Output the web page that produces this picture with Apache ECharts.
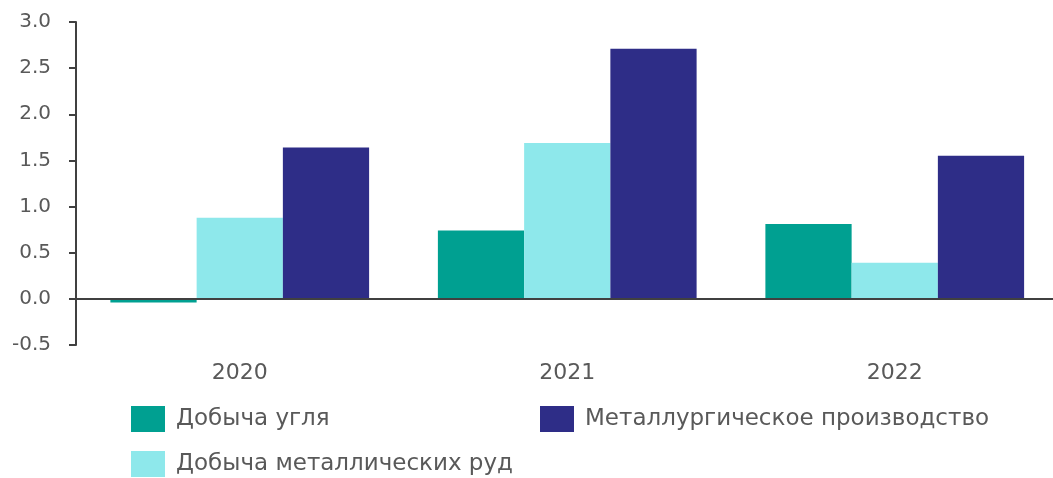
<!DOCTYPE html>
<html>
<head>
<meta charset="utf-8">
<script src="https://cdn.jsdelivr.net/npm/echarts@6/dist/echarts.min.js"></script>
<style>html,body{margin:0;padding:0;background:#fff;overflow:hidden}#c{width:1060px;height:478px}</style>
</head>
<body>
<div id="c"></div>
<script>
const categories = ['2020', '2021', '2022'];
const coal = [-0.04, 0.74, 0.81];
const ores = [0.88, 1.69, 0.39];
const metal = [1.64, 2.71, 1.55];
const seriesNames = ['Добыча угля', 'Добыча металлических руд', 'Металлургическое производство'];
const yTicks = { min: -0.5, max: 3.0, interval: 0.5 };

const FONT = 'DejaVu Sans';
const TXT = '#595959';
const legendText = { fontFamily: FONT, fontSize: 23, color: TXT, padding: [0, 0, 0, 6] };
function legendAt(name, left, top) {
  return { data: [name], orient: 'horizontal', left: left, top: top, padding: 0,
    itemWidth: 34, itemHeight: 26, icon: 'rect', textStyle: legendText };
}
const chart = echarts.init(document.getElementById('c'), null, { renderer: 'canvas' });
chart.setOption({
  animation: false,
  textStyle: { fontFamily: FONT },
  grid: { left: 76, right: 1.5, top: 22, bottom: 133, containLabel: false },
  legend: [
    legendAt(seriesNames[0], 131, 406),
    legendAt(seriesNames[1], 131, 451),
    legendAt(seriesNames[2], 540, 406)
  ],
  xAxis: {
    type: 'category', data: categories,
    axisLine: { show: false }, axisTick: { show: false },
    axisLabel: { color: TXT, fontSize: 22, fontFamily: FONT, margin: 17 }
  },
  yAxis: {
    type: 'value', min: yTicks.min, max: yTicks.max, interval: yTicks.interval,
    splitLine: { show: false },
    axisLine: { show: true, lineStyle: { color: '#404040', width: 2 } },
    axisTick: { show: true, length: 7, lineStyle: { color: '#404040', width: 2 } },
    axisLabel: { color: TXT, fontSize: 20, fontFamily: FONT, margin: 25, formatter: v => v.toFixed(1) }
  },
  series: [
    { name: seriesNames[0], type: 'bar', data: coal, itemStyle: { color: '#00A091' }, barGap: '0%', barCategoryGap: '21%',
      markLine: { silent: true, symbol: 'none', label: { show: false },
        lineStyle: { color: '#404040', width: 2, type: 'solid' }, data: [{ yAxis: 0 }] }, z: 2 },
    { name: seriesNames[1], type: 'bar', data: ores, itemStyle: { color: '#8EE8EB' }, barGap: '0%', barCategoryGap: '21%' },
    { name: seriesNames[2], type: 'bar', data: metal, itemStyle: { color: '#2E2D87' }, barGap: '0%', barCategoryGap: '21%' }
  ]
});
</script>
</body>
</html>
